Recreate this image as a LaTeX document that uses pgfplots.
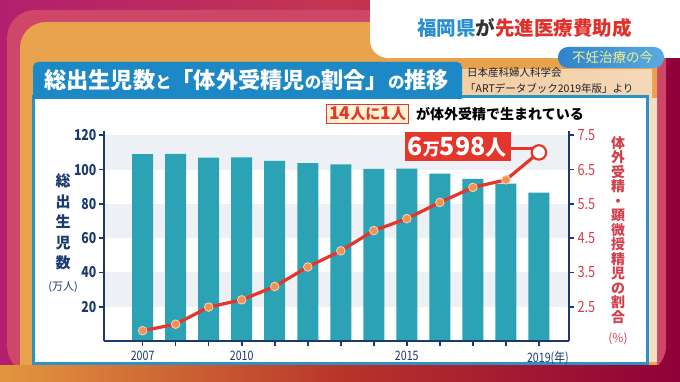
\documentclass[border=0pt]{standalone}
\usepackage{pgfplots}
\pgfplotsset{compat=1.18}
\usepackage{fontspec}
\setmainfont{Noto Sans CJK JP}
\newfontfamily\numfont{Noto Sans CJK JP}[FakeStretch=0.82]
\definecolor{navy}{HTML}{1B3A6E}
\definecolor{teal}{HTML}{2BA3B4}
\definecolor{band}{HTML}{EDF0F5}
\definecolor{linered}{HTML}{E4362B}
\definecolor{markorange}{HTML}{F39152}
\definecolor{markborder}{HTML}{FCD3B5}
\definecolor{axisred}{HTML}{D23F4B}
\definecolor{bannerblue}{HTML}{1D88C6}
\definecolor{panelblue}{HTML}{2B92C8}
\definecolor{mag}{HTML}{B21F6F}
\definecolor{crim}{HTML}{8F0038}
\definecolor{midred}{HTML}{C43650}
\definecolor{pinkband}{HTML}{CF4768}
\definecolor{orng}{HTML}{E8A24C}
\definecolor{botorng}{HTML}{E3963E}
\definecolor{botred}{HTML}{B8352A}
\definecolor{lightorng}{HTML}{F0BC78}
\definecolor{lightcream}{HTML}{F4D8B8}
\definecolor{cream}{HTML}{F4DFC5}
\definecolor{boxcream}{HTML}{FDF2D2}
\definecolor{titleblue}{HTML}{2A8FD0}
\definecolor{titlered}{HTML}{E0302A}
\definecolor{darktext}{HTML}{1E1E2A}
\definecolor{grey3}{HTML}{333333}
\definecolor{pillL}{HTML}{2F84CA}
\definecolor{pillR}{HTML}{5AA9E2}
\definecolor{pilltext}{HTML}{EEF28A}

\pgfplotstableread{
year births
2007 109.0
2008 109.1
2009 107.0
2010 107.1
2011 105.1
2012 103.7
2013 103.0
2014 100.4
2015 100.6
2016 97.7
2017 94.6
2018 91.8
2019 86.5
}\births
\pgfplotstableread{
year ratio
2007 1.80
2008 1.99
2009 2.49
2010 2.70
2011 3.09
2012 3.66
2013 4.13
2014 4.72
2015 5.07
2016 5.54
2017 5.98
2018 6.20
2019 7.00
}\ratio

\begin{document}
\begin{tikzpicture}
\useasboundingbox (0,0) rectangle (680pt,382pt);
\begin{scope}[shift={(0pt,382pt)},x=1pt,y=-1pt]
  % background layers
  \shade[left color=mag, right color=crim, middle color=midred] (0,0) rectangle (680,382);
  \fill[pinkband, rounded corners=28pt] (7,10) rectangle (666,374);
  \fill[orng, rounded corners=26pt] (20,22) rectangle (657,420);
  \shade[left color=botorng, right color=crim, middle color=botred] (0,366) rectangle (680,382);
  \fill[cream] (645,98) rectangle (657,362);
  \shade[left color=lightorng, right color=lightcream] (100,70) rectangle (652,100);
  % top white panel
  \fill[white, rounded corners=18pt] (370,-20) rectangle (700,58);
  \node[anchor=west, inner sep=0, font=\bfseries\fontsize{19.5}{20}\selectfont] at (417,28)
    {\textcolor{titleblue}{福岡県}\textcolor{grey3}{が}\textcolor{titlered}{先進医療費助成}};
  % pill
  \shade[left color=pillL, right color=pillR, rounded corners=10pt] (558,47) rectangle (664,68);
  \node[anchor=west, inner sep=0, text=pilltext, font=\fontsize{13.5}{14}\selectfont] at (572,57.5) {不妊治療の今};
  % chart panel
  \filldraw[fill=white, draw=panelblue, line width=3pt] (33,97) rectangle (647,364);
  % banner
  \fill[bannerblue, rounded corners=5pt] (33,62) rectangle (462,99);
  \fill[bannerblue] (33,80) rectangle (462,99);
  \node[anchor=west, inner sep=0, text=white, font=\bfseries\fontsize{22.2}{23}\selectfont] at (44,80.5)
    {総出生児数{\fontsize{16.5}{16}\selectfont と}「体外受精児{\fontsize{16.5}{16}\selectfont の}割合」{\fontsize{16.5}{16}\selectfont の}推移};
  % source
  \node[anchor=west, inner sep=0, text=darktext, font=\fontsize{10.5}{11}\selectfont] at (467,73) {日本産科婦人科学会};
  \node[anchor=west, inner sep=0, text=darktext, font=\fontsize{10.5}{11}\selectfont] at (465,88.5) {「ARTデータブック2019年版」より};
\end{scope}

\begin{axis}[
  at={(104pt,41pt)}, anchor=south west, scale only axis,
  width=465pt, height=210pt,
  xmin=2005.83, xmax=2019.91, ymin=0, ymax=122.5,
  axis x line=bottom, axis y line=left,
  axis line style={navy, line width=2.6pt, -},
  every outer x axis line/.append style={-},
  every outer y axis line/.append style={-},
  xtick={2007,...,2019},
  xticklabels={2007,,,2010,,,,,2015,,,,2019\rlap{(年)}},
  ytick={20,40,...,120},
  tick align=outside, major tick length=5pt,
  tick style={navy, line width=1.6pt},
  x tick label style={font=\numfont\fontsize{13}{13}\selectfont, text=navy, yshift=-1.5pt},
  y tick label style={font=\numfont\bfseries\fontsize{15}{15}\selectfont, text=navy, xshift=1pt},
  /pgf/number format/assume math mode=true,
  axis on top,
  ybar, bar width=21pt,
]
  \fill[band] (axis cs:2005.83,20) rectangle (axis cs:2019.91,40);
  \fill[band] (axis cs:2005.83,60) rectangle (axis cs:2019.91,80);
  \fill[band] (axis cs:2005.83,100) rectangle (axis cs:2019.91,120);
  \addplot[fill=teal, draw=none] table[x=year, y=births] {\births};
\end{axis}

\begin{axis}[
  at={(104pt,41pt)}, anchor=south west, scale only axis,
  width=465pt, height=210pt,
  xmin=2005.83, xmax=2019.91, ymin=1.5, ymax=7.625,
  axis y line=right, axis x line=none,
  axis line style={navy, line width=2.6pt, -},
  every outer y axis line/.append style={-},
  ytick={2.5,3.5,4.5,5.5,6.5,7.5},
  yticklabels={2.5,3.5,4.5,5.5,6.5,7.5},
  tick align=outside, major tick length=5pt,
  tick style={navy, line width=1.6pt},
  y tick label style={font=\numfont\fontsize{15.5}{15}\selectfont, text=axisred, xshift=0pt},
  /pgf/number format/assume math mode=true,
  clip=false,
]
  \addplot[linered, line width=3.2pt, mark=*, mark size=4.3pt,
    mark options={fill=markorange, draw=markborder, line width=0.8pt}]
    table[x=year, y=ratio] {\ratio};
  \addplot[only marks, mark=*, mark size=7.2pt,
    mark options={fill=white, draw=linered, line width=2.2pt}]
    coordinates {(2019,7.00)};
\end{axis}

\begin{scope}[shift={(0pt,382pt)},x=1pt,y=-1pt]
  % axis titles
  \node[align=center, inner sep=0, text=navy, font=\bfseries\fontsize{15}{20.5}\selectfont] at (63,222)
    {総\\出\\生\\児\\数};
  \node[inner sep=0, text=navy, font=\fontsize{11}{11}\selectfont] at (63,287) {(万人)};
  \node[align=center, inner sep=0, text=axisred, font=\bfseries\fontsize{14}{14.5}\selectfont] at (618,230)
    {体\\外\\受\\精\\・\\顕\\微\\授\\精\\児\\の\\割\\合};
  \node[inner sep=0, text=axisred, font=\fontsize{12}{12}\selectfont] at (618,339) {(\%)};
  % annotations
  \node[draw=linered, fill=boxcream, line width=1.3pt, inner xsep=2.5pt, inner ysep=1pt, anchor=west,
        minimum height=19pt, text=linered, font=\bfseries\fontsize{17.5}{17}\selectfont] at (326,114)
    {14{\fontsize{15}{15}\selectfont 人に}1{\fontsize{15}{15}\selectfont 人}};
  \node[anchor=west, inner sep=0, text=black, font=\bfseries\fontsize{14}{14}\selectfont] at (416,114.5)
    {が体外受精で生まれている};
  \draw[linered, line width=3pt] (505,149) -- (533,149);
  \fill[linered] (405,132) rectangle (511,161);
  \node[inner sep=0, text=white, font=\bfseries\fontsize{25}{25}\selectfont] at (457,147)
    {6{\fontsize{17}{17}\selectfont 万}598{\fontsize{21}{21}\selectfont 人}};
\end{scope}
\end{tikzpicture}
\end{document}
